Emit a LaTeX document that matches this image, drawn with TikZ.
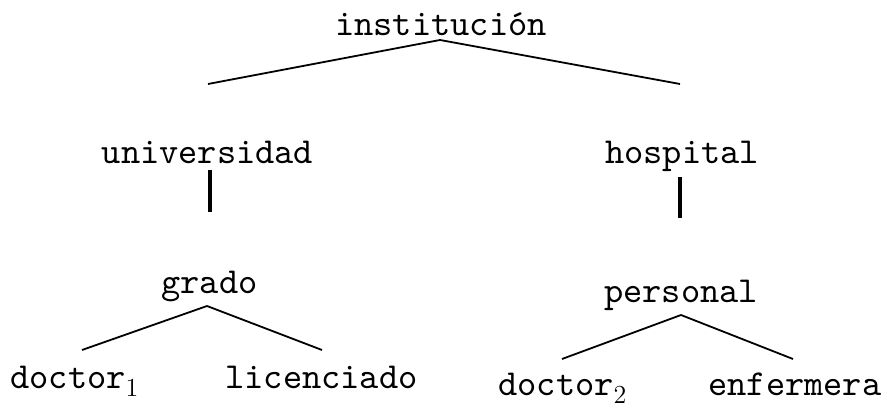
\documentclass[tikz,border=0pt]{standalone}
\usepackage{fontspec}
\setmonofont{lmmono10-regular.otf}
\usepackage{amsmath}
\usetikzlibrary{calc}

\newcommand{\sense}[1]{\raisebox{-4pt}{\fontsize{13}{13}\selectfont\rmfamily #1}}

\begin{document}
\begin{tikzpicture}[x=0.5pt, y=-0.5pt,
    every node/.style={inner sep=0pt, font=\fontsize{18.3}{22}\selectfont\ttfamily},
    word/.style={anchor=base},
    leaf/.style={anchor=base west},
    branch/.style={draw, line width=0.9pt},
    stem/.style={draw, line width=1.7pt}
    ]
    \useasboundingbox (0,0) rectangle (886,405);

    % Root node
    \node[word] (inst) at (441,36) {institución};

    % Left subtree
    \node[word] (univ) at (207.5,164) {universidad};
    \node[word] (grado) at (209.5,293) {grado};
    \node[leaf] (doc1) at (10,388) {doctor\sense{1}};
    \node[leaf] (lic) at (225,388) {licenciado};

    % Right subtree
    \node[word] (hosp) at (682,164) {hospital};
    \node[word] (pers) at (681,302) {personal};
    \node[leaf] (doc2) at (498,395) {doctor\sense{2}};
    \node[leaf] (enf) at (708,395) {enfermera};

    % Edges
    \draw[branch] ($(inst.base)+(-1,4)$) -- ($(univ.base)+(0.5,-80)$);
    \draw[branch] ($(inst.base)+(-1,4)$) -- ($(hosp.base)+(-2,-80)$);
    \draw[stem] ($(univ.base)+(2.5,6)$) -- ($(grado.base)+(0.5,-81)$);
    \draw[stem] ($(hosp.base)+(-2,13)$) -- ($(pers.base)+(-1,-84)$);
    \draw[branch] ($(grado.base)+(-2.5,13)$) -- ($(doc1.base west)+(72,-38)$);
    \draw[branch] ($(grado.base)+(-2.5,13)$) -- ($(lic.base west)+(97,-38)$);
    \draw[branch] ($(pers.base)+(0,13)$) -- ($(doc2.base west)+(64,-36)$);
    \draw[branch] ($(pers.base)+(0,13)$) -- ($(enf.base west)+(85,-36)$);
\end{tikzpicture}
\end{document}
